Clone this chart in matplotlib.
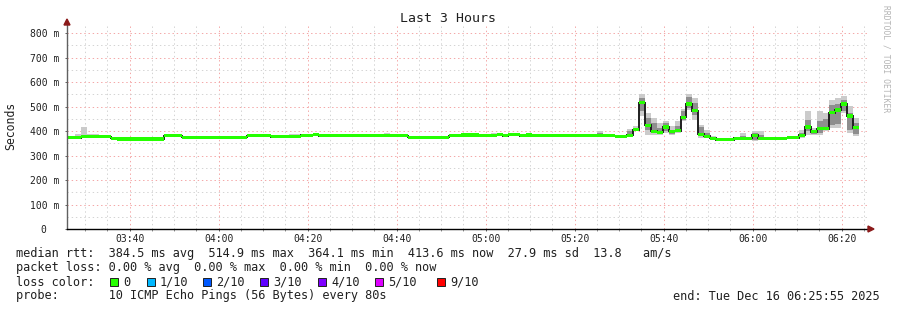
import numpy as np
import matplotlib
matplotlib.use("Agg")
import matplotlib.pyplot as plt
from matplotlib.patches import Rectangle, Polygon

W, H, DPI = 897, 310, 100
MONO = "DejaVu Sans Mono"

# time axis (3 hours ending 06:25:55)
start_time = "03:25:55"
end_time = "06:25:55"
first_step = "03:25:07"
step_seconds = 80
time_labels = ["03:40", "04:00", "04:20", "04:40", "05:00",
               "05:20", "05:40", "06:00", "06:20"]

# median rtt per 80 s step, ms
median_ms = [
    373, 373, 373, 376, 376, 376, 376, 376, 370, 367,
    367, 367, 367, 367, 367, 367, 367, 380, 380, 380,
    375, 375, 375, 375, 375, 375, 375, 374, 374, 374,
    374, 380, 380, 380, 380, 376, 376, 376, 379, 379,
    382, 382, 385, 381, 381, 381, 381, 381, 383, 383,
    383, 381, 383, 383, 381, 381, 381, 381, 375, 375,
    372, 375, 375, 375, 375, 380, 380, 384, 384, 384,
    381, 381, 383, 385, 381, 385, 385, 381, 384, 381,
    381, 380, 380, 380, 380, 383, 380, 380, 383, 383,
    383, 383, 380, 379, 379, 382, 405, 515, 424, 399,
    395, 416, 398, 401, 456, 510, 483, 387, 378, 370,
    365, 365, 365, 371, 371, 371, 382, 371, 368, 368,
    371, 371, 372, 372, 382, 416, 397, 410, 410, 475,
    486, 510, 461, 414,
]

# smoke (ping spread) where it is visible: step index, outer lo/hi, inner lo/hi (ms)
smoke_step = [2, 3, 4, 5, 31, 38, 39, 42, 54, 72, 73, 78, 85, 90, 95,
              96, 97, 98, 99, 100, 101, 102, 103, 104, 105, 106, 107, 108, 109,
              114, 116, 117, 124, 125, 126, 127, 128, 129, 130, 131, 132, 133]
smoke_lo = [372, 374, 374, 374, 376, 377, 377, 381, 379, 381, 382, 381, 380, 380, 378,
            398, 460, 385, 385, 385, 392, 385, 392, 440, 487, 446, 371, 372, 366,
            368, 358, 365, 371, 385, 385, 385, 399, 412, 412, 473, 392, 378]
smoke_hi = [388, 415, 388, 386, 388, 388, 388, 392, 390, 390, 390, 390, 388, 401, 409,
            422, 551, 473, 453, 433, 442, 419, 440, 491, 551, 535, 426, 404, 378,
            392, 401, 399, 405, 480, 412, 480, 473, 528, 535, 542, 501, 453]
smoke_ilo = [373, 376, 375, 375, 378, 378, 378, 383, 380, 382, 383, 382, 381, 381, 380,
             400, 480, 405, 392, 389, 399, 389, 396, 446, 494, 467, 378, 375, 367,
             369, 365, 368, 374, 399, 389, 392, 403, 426, 430, 480, 405, 388]
smoke_ihi = [378, 385, 380, 378, 382, 382, 382, 388, 384, 386, 387, 386, 385, 392, 398,
             412, 535, 453, 433, 412, 433, 405, 419, 480, 538, 514, 415, 392, 372,
             378, 392, 385, 392, 446, 397, 442, 450, 507, 510, 528, 473, 433]

loss_labels = ["0", "1/10", "2/10", "3/10", "4/10", "5/10", "9/10"]
loss_colors = ["#26ff00", "#00b8ff", "#0059ff", "#5e00ff", "#7e00ff", "#dd00ff", "#ff0000"]

title = "Last 3 Hours"
ylabel = "Seconds"
rtt_line = ("median rtt:  384.5 ms avg  514.9 ms max  364.1 ms min  "
            "413.6 ms now  27.9 ms sd  13.8   am/s")
loss_line = "packet loss: 0.00 % avg  0.00 % max  0.00 % min  0.00 % now"
probe_line = "probe:       10 ICMP Echo Pings (56 Bytes) every 80s"
end_line = "end: Tue Dec 16 06:25:55 2025"


def secs(hms):
    parts = [int(p) for p in hms.split(":")]
    while len(parts) < 3:
        parts.append(0)
    return parts[0] * 3600 + parts[1] * 60 + parts[2]


def minutes(hms):
    return (secs(hms) - secs(start_time)) / 60.0


fx = lambda p: p / W
fy = lambda p: 1 - p / H

fig = plt.figure(figsize=(W / DPI, H / DPI), dpi=DPI)
ax_l, ax_r, ax_t, ax_b = 67, 868, 26, 229
ax = fig.add_axes([fx(ax_l), fy(ax_b), (ax_r - ax_l) / W, (ax_b - ax_t) / H])
ms_per_px = 800 / (229 - 33)
ax.set_xlim(0, minutes(end_time))
ax.set_ylim(0, (ax_b - ax_t) * ms_per_px)
for s in ax.spines.values():
    s.set_visible(False)

# grid
xmaj = [minutes(t) for t in time_labels]
xmin = np.arange(minutes("03:30"), minutes(end_time), 5.0)
dots = (0, (1.4, 2.8))
for x in xmin:
    major = any(abs(x - m) < 1e-6 for m in xmaj)
    ax.axvline(x, color="#f4a8a8" if major else "#d4d4d4", lw=0.72,
               ls=dots, zorder=0.5)
for y in range(50, 801, 50):
    ax.axhline(y, color="#f4a8a8" if y % 100 == 0 else "#d4d4d4", lw=0.72,
               ls=dots, zorder=0.5)

# data
med = np.array(median_ms, dtype=float)
n = len(med)
edges = minutes(first_step) + np.arange(n + 1) * step_seconds / 60.0
lo = med.copy(); hi = med.copy(); ilo = med.copy(); ihi = med.copy()
lo[smoke_step] = smoke_lo
hi[smoke_step] = smoke_hi
ilo[smoke_step] = smoke_ilo
ihi[smoke_step] = smoke_ihi

ax.stairs(hi, edges, baseline=lo, fill=True, color="#cbcbcb", zorder=1)
ax.stairs(ihi, edges, baseline=ilo, fill=True, color="#8e8e8e", zorder=1.1)
ax.stairs(med, edges, baseline=None, color="#202020", lw=1.4, zorder=2)
ax.stairs(med + 6.5, edges, baseline=med - 6.5, fill=True,
          color=loss_colors[0], zorder=3)

# axes lines + arrows
ax.plot([0, 0], [0, ax.get_ylim()[1] + 1 * ms_per_px], color="#606060",
        lw=1.0, clip_on=False, zorder=4)
ax.plot([0, minutes(end_time)], [0, 0], color="black", lw=1.0,
        clip_on=False, zorder=4)
fig.patches.append(Polygon([[fx(64), fy(25)], [fx(70), fy(25)], [fx(67), fy(19)]],
                           closed=True, transform=fig.transFigure,
                           color="#8b1a1a"))
fig.patches.append(Polygon([[fx(868), fy(226)], [fx(868), fy(232)], [fx(874), fy(229)]],
                           closed=True, transform=fig.transFigure,
                           color="#8b1a1a"))

# ticks
px = 72 / DPI
yt = list(range(0, 801, 100))
ax.set_yticks(yt)
ax.set_yticklabels(["0  "] + ["%d m" % v for v in yt[1:]])
ax.set_xticks(xmaj)
ax.set_xticklabels(time_labels)
ax.set_xticks(xmin, minor=True)
ax.tick_params(axis="y", length=2 * px, width=0.7, color="#606060",
               pad=6 * px, labelsize=7, labelcolor="#202020")
ax.tick_params(axis="x", which="major", length=2 * px, width=0.7,
               color="#606060", pad=3 * px, labelsize=7, labelcolor="#202020")
ax.tick_params(axis="x", which="minor", length=2 * px, width=0.7,
               color="#909090")
for lab in ax.get_xticklabels() + ax.get_yticklabels():
    lab.set_family(MONO)

# texts
fig.text(fx(448), fy(19), title, family=MONO, fontsize=9.5, ha="center",
         va="center", color="#202020")
fig.text(fx(11), fy(126), ylabel, family=MONO, fontsize=8.3, rotation=90,
         ha="center", va="center", color="#202020")
fig.text(fx(886), fy(5), "RRDTOOL / TOBI OETIKER", family=MONO, fontsize=5.8,
         rotation=270, ha="center", va="top", color="#b4b4b4")

fs = 8.55
fig.text(fx(16), fy(254), rtt_line, family=MONO, fontsize=fs, va="center",
         color="#202020")
fig.text(fx(16), fy(268), loss_line, family=MONO, fontsize=fs, va="center",
         color="#202020")
fig.text(fx(16), fy(282), "loss color:", family=MONO, fontsize=fs,
         va="center", color="#202020")
box_x = [110, 147, 203, 260, 318, 375, 437]
for bx, lab, col in zip(box_x, loss_labels, loss_colors):
    fig.patches.append(Rectangle((fx(bx), fy(286)), 8 / W, 8 / H,
                                 transform=fig.transFigure, facecolor=col,
                                 edgecolor="#202020", lw=0.7))
    fig.text(fx(bx + 13), fy(282), lab, family=MONO, fontsize=fs,
             va="center", color="#202020")
fig.text(fx(16), fy(296), probe_line, family=MONO, fontsize=fs, va="center",
         color="#202020")
fig.text(fx(880), fy(296), end_line, family=MONO, fontsize=fs, va="center",
         ha="right", color="#202020")

fig.savefig("out.png", dpi=DPI)
